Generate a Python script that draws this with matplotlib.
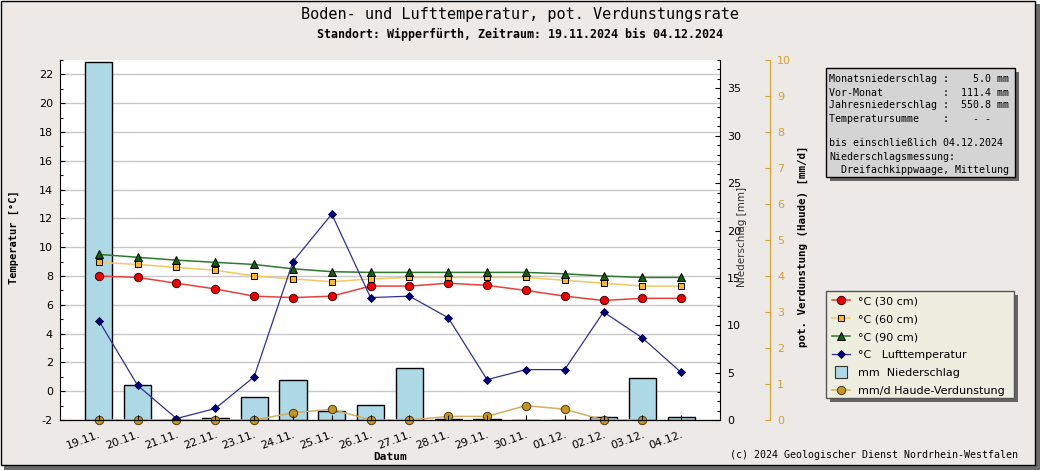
import numpy as np
import matplotlib
matplotlib.use('Agg')
import matplotlib.pyplot as plt
from matplotlib.patches import Rectangle
from matplotlib.lines import Line2D
from matplotlib.ticker import MultipleLocator

plt.rcParams['axes.unicode_minus'] = False

# ---------------- data ----------------
days = ["19.11.", "20.11.", "21.11.", "22.11.", "23.11.", "24.11.", "25.11.", "26.11.",
        "27.11.", "28.11.", "29.11.", "30.11.", "01.12.", "02.12.", "03.12.", "04.12."]
t30 = [8.0, 7.9, 7.5, 7.1, 6.6, 6.5, 6.6, 7.3, 7.3, 7.5, 7.35, 7.0, 6.6, 6.3, 6.45, 6.45]
t60 = [8.95, 8.8, 8.6, 8.4, 8.0, 7.8, 7.6, 7.8, 7.9, 7.9, 7.9, 7.9, 7.7, 7.5, 7.3, 7.3]
t90 = [9.5, 9.3, 9.1, 8.95, 8.8, 8.5, 8.3, 8.25, 8.25, 8.25, 8.25, 8.25, 8.15, 8.0, 7.9, 7.9]
air = [4.9, 0.4, -1.9, -1.2, 1.0, 9.0, 12.3, 6.5, 6.6, 5.1, 0.8, 1.5, 1.5, 5.5, 3.7, 1.3]
precip = [37.8, 3.7, 0.0, 0.2, 2.4, 4.2, 0.9, 1.55, 5.45, 0.1, 0.1, 0.0, 0.0, 0.3, 4.4, 0.3]
evap = [0.0, 0.0, 0.0, 0.0, 0.0, 0.2, 0.3, 0.0, 0.0, 0.1, 0.1, 0.4, 0.3, 0.0, 0.0, np.nan]

legend_labels = ["°C (30 cm)", "°C (60 cm)", "°C (90 cm)", "°C   Lufttemperatur",
                 "mm  Niederschlag", "mm/d Haude-Verdunstung"]
info_lines = ["Monatsniederschlag :    5.0 mm",
              "Vor-Monat          :  111.4 mm",
              "Jahresniederschlag :  550.8 mm",
              "Temperatursumme    :    - -",
              "bis einschließlich 04.12.2024",
              "Niederschlagsmessung:",
              "  Dreifachkippwaage, Mittelung"]

title = "Boden- und Lufttemperatur, pot. Verdunstungsrate"
subtitle = "Standort: Wipperfürth, Zeitraum: 19.11.2024 bis 04.12.2024"
copyright_txt = "(c) 2024 Geologischer Dienst Nordrhein-Westfalen"

# ---------------- figure ----------------
W, H = 1040, 470
fig = plt.figure(figsize=(W / 100, H / 100), dpi=100, facecolor='white')


def fx(x):
    return x / W


def fy(y):
    return 1 - y / H


def prect(x0, y0, x1, y1, **kw):
    r = Rectangle((fx(x0), fy(y1)), (x1 - x0) / W, (y1 - y0) / H,
                  transform=fig.transFigure, **kw)
    fig.add_artist(r)
    return r


MONO = 'DejaVu Sans Mono'
ORANGE = '#d4a032'

# panel and its shadow
prect(4, 4, 1040, 470, facecolor='#6b6b6b', edgecolor='none', zorder=-11)
prect(0.5, 0.5, 1035, 465, facecolor='#ece9e7', edgecolor='black', linewidth=1, zorder=-10)

x = np.arange(len(days))

ax = fig.add_axes([fx(60), fy(420), 660 / W, 360 / H])
ax.set_facecolor('white')
ax2 = ax.twinx()
ax3 = ax.twinx()
ax4 = fig.add_axes(ax.get_position(), sharex=ax, sharey=ax)
ax.set_zorder(0)
ax2.set_zorder(1)
ax3.set_zorder(2)
ax4.set_zorder(3)
ax4.patch.set_visible(False)

ax.set_xlim(-1, 16)
ax.set_ylim(-2, 23)
ax.yaxis.set_major_locator(MultipleLocator(2))
ax.yaxis.set_minor_locator(MultipleLocator(1))
ax.grid(axis='y', which='major', color='#c8c8c8', linewidth=1)
ax.set_axisbelow(True)
ax.tick_params(axis='y', which='major', direction='in', length=3.6, width=0.8, pad=5, labelsize=8)
ax.tick_params(axis='y', which='minor', direction='in', length=2.2, width=0.8)
ax.set_xticks(x)
ax.set_xticklabels(days, rotation=20, ha='right', rotation_mode='anchor', fontsize=8)
ax.tick_params(axis='x', length=0, pad=7)
for s in ['top', 'right']:
    ax.spines[s].set_visible(False)

# precipitation bars
ax2.bar(x, precip, width=0.7, color='#add8e6', edgecolor='black', linewidth=1)
ax2.set_ylim(0, 38)
ax2.yaxis.set_major_locator(MultipleLocator(5))
ax2.yaxis.set_minor_locator(MultipleLocator(1))
ax2.tick_params(axis='y', which='major', direction='in', length=3.6, width=0.8, pad=5, labelsize=8)
ax2.tick_params(axis='y', which='minor', direction='in', length=2.2, width=0.8)
for s in ['top', 'left', 'bottom']:
    ax2.spines[s].set_visible(False)

# evaporation
ax3.plot(x, evap, color='#d3ad62', linewidth=1.1, marker='o', markersize=6,
         markerfacecolor='#c8961e', markeredgecolor='#4a3a10', markeredgewidth=0.7, clip_on=False)
ax3.set_ylim(0, 10)
ax3.set_yticks(range(0, 11))
ax3.spines['right'].set_position(('outward', 36))
ax3.spines['right'].set_color(ORANGE)
for s in ['top', 'left', 'bottom']:
    ax3.spines[s].set_visible(False)
ax3.tick_params(axis='y', direction='in', length=3.6, width=0.8, pad=5, labelsize=8,
                colors=ORANGE, labelcolor=ORANGE)

# temperatures
ax4.plot(x, t30, color='#e8413c', linewidth=1.1, marker='o', markersize=6,
         markerfacecolor='#ee0000', markeredgecolor='#4a0000', markeredgewidth=0.7)
ax4.plot(x, t60, color='#f2c860', linewidth=1.1, marker='s', markersize=4.8,
         markerfacecolor='#fbb829', markeredgecolor='black', markeredgewidth=0.7)
ax4.plot(x, t90, color='#2e7b2e', linewidth=1.1, marker='^', markersize=5.5,
         markerfacecolor='#0a640a', markeredgecolor='black', markeredgewidth=0.7)
ax4.plot(x, air, color='#30309a', linewidth=0.9, marker='D', markersize=4.2,
         markerfacecolor='#000080', markeredgecolor='#000040', markeredgewidth=0.6)
for s in ['top', 'left', 'right']:
    ax4.spines[s].set_visible(False)
ax4.spines['bottom'].set_color('black')
ax4.tick_params(axis='x', direction='in', length=3.6, width=0.8, labelbottom=False)
ax4.tick_params(axis='y', which='both', left=False, right=False, labelleft=False)

# axis labels
fig.text(fx(14), fy(237), "Temperatur [°C]", rotation=90, ha='center', va='center',
         family=MONO, weight='bold', fontsize=7.5)
fig.text(fx(803), fy(246), "pot. Verdunstung (Haude) [mm/d]", rotation=90, ha='center',
         va='center', family=MONO, weight='bold', fontsize=7.8)
fig.text(fx(742), fy(237), "Niederschlag [mm]", rotation=90, ha='center', va='center',
         fontsize=7.5, color='#333333')
fig.text(fx(390), fy(457), "Datum", ha='center', va='center', family=MONO, weight='bold',
         fontsize=8)

# titles
fig.text(fx(520), fy(14), title, ha='center', va='center', family=MONO, fontsize=11)
fig.text(fx(520), fy(34), subtitle, ha='center', va='center', family=MONO, weight='bold',
         fontsize=8.4)
fig.text(fx(1018), fy(455), copyright_txt, ha='right', va='center', family=MONO, fontsize=7.2)

# info box
prect(830, 72, 1019, 181, facecolor='#666666', edgecolor='none', zorder=1)
prect(826, 68, 1015, 177, facecolor='#d4d4d4', edgecolor='black', linewidth=1, zorder=2)
info_y = [79.3, 92.7, 105.5, 118.7, 142.7, 156.7, 170.0]
for yy, line in zip(info_y, info_lines):
    fig.text(fx(829), fy(yy), line, ha='left', va='center', family=MONO, fontsize=7.2, zorder=3)

# legend box
prect(830, 295, 1018, 402, facecolor='#666666', edgecolor='none', zorder=1)
prect(826, 291, 1014, 398, facecolor='#edede0', edgecolor='#555555', linewidth=1, zorder=2)
handles = [
    Line2D([], [], color='#e8413c', lw=1.1, marker='o', ms=6, mfc='#ee0000', mec='#4a0000', mew=0.7),
    Line2D([], [], color='#f2c860', lw=1.1, marker='s', ms=4.8, mfc='#fbb829', mec='black', mew=0.7),
    Line2D([], [], color='#2e7b2e', lw=1.1, marker='^', ms=5.5, mfc='#0a640a', mec='black', mew=0.7),
    Line2D([], [], color='#30309a', lw=0.9, marker='D', ms=4.2, mfc='#000080', mec='#000040', mew=0.6),
    Line2D([], [], color='none', marker='s', ms=8, mfc='#add8e6', mec='#333333', mew=0.8),
    Line2D([], [], color='#d3ad62', lw=1.1, marker='o', ms=6, mfc='#c8961e', mec='#4a3a10', mew=0.7),
]
leg = fig.legend(handles, legend_labels, loc='upper left', bbox_to_anchor=(fx(829), fy(293)),
                 frameon=False, fontsize=8, handlelength=1.55, handletextpad=0.8,
                 labelspacing=0.72, borderpad=0.3, borderaxespad=0)
leg.set_zorder(4)

fig.savefig('out.png', dpi=100, facecolor=fig.get_facecolor())
